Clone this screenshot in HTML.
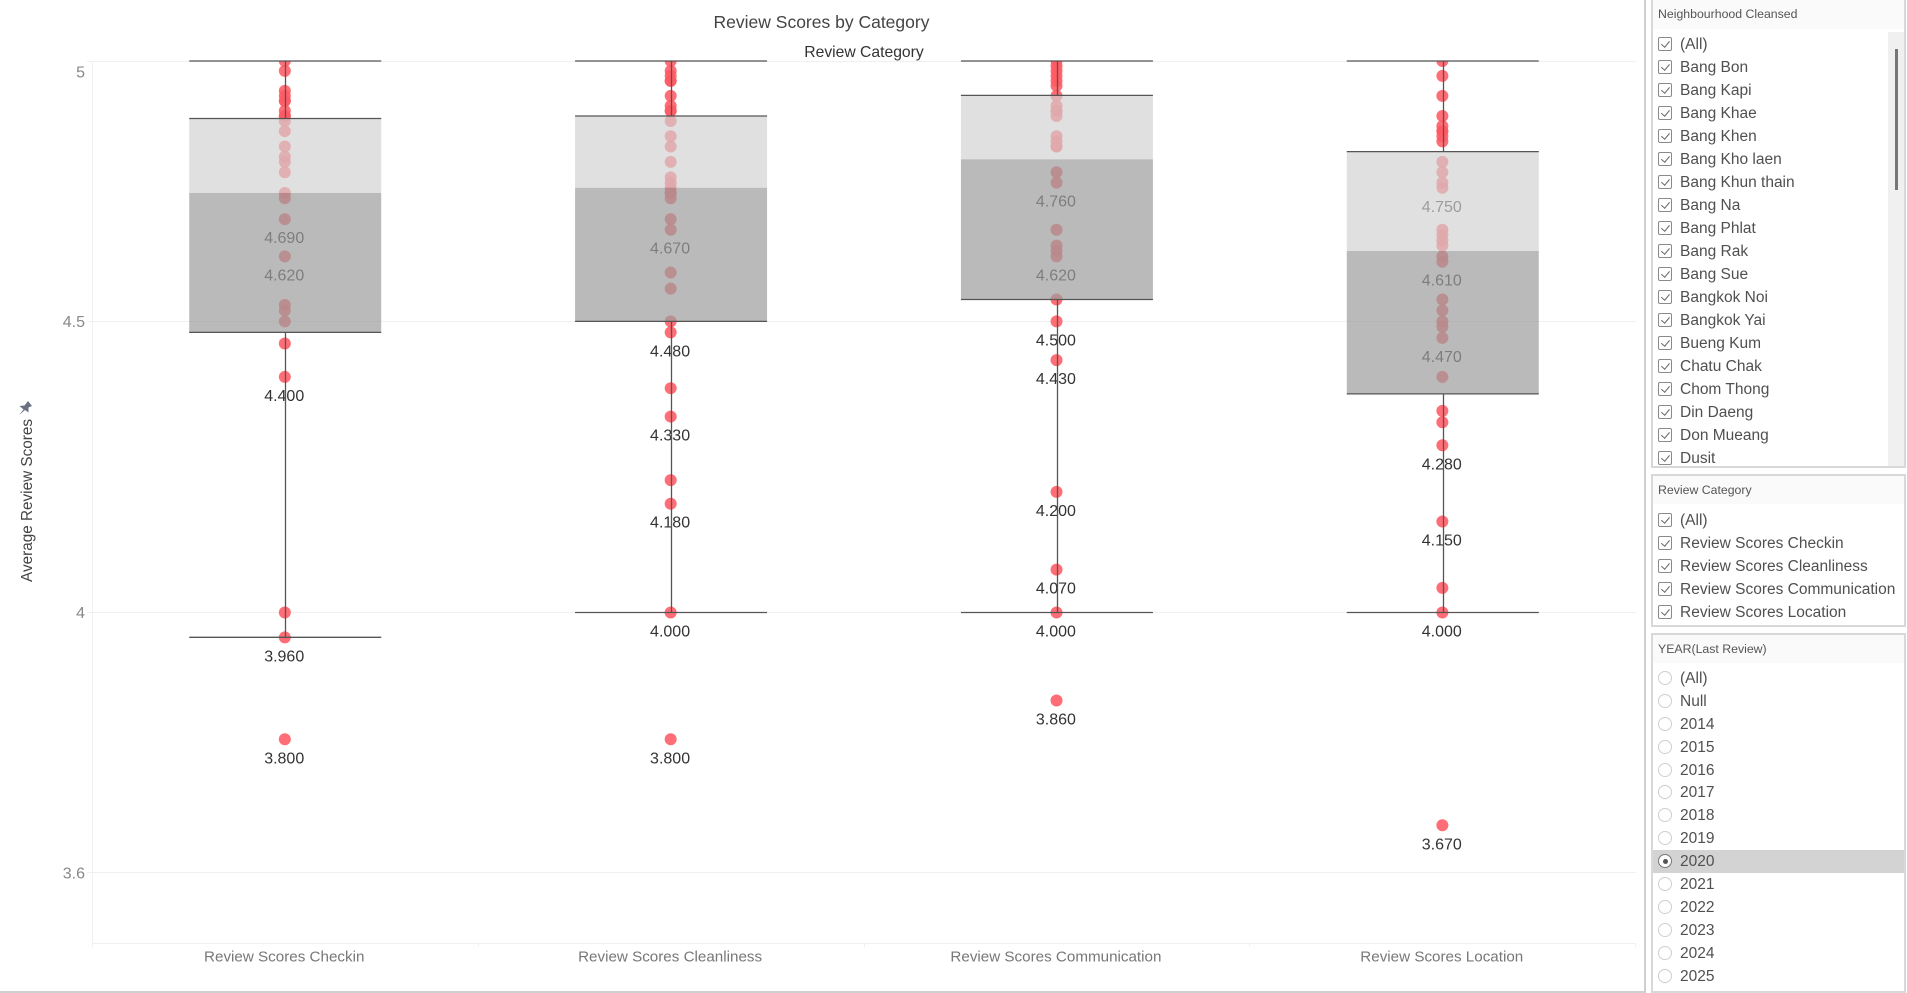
<!DOCTYPE html>
<html lang="en">
<head>
<meta charset="utf-8">
<title>Review Scores by Category</title>
<style>
html,body{margin:0;padding:0;width:1907px;height:993px;overflow:hidden;background:#fff;font-family:"Liberation Sans",sans-serif;}
#chart{position:absolute;left:0;top:0;width:1644px;height:993px;}
#chart text{font-family:"Liberation Sans",sans-serif;}
.rule-v{position:absolute;left:1644px;top:0;width:2px;height:993px;background:#d0d0d0;}
.rule-h{position:absolute;left:0;top:991px;width:1646px;height:2px;background:#d0d0d0;}
.panel{position:absolute;left:1651px;width:255px;box-sizing:border-box;border:2px solid #d8d8d8;background:#fff;overflow:hidden;}
.head{position:absolute;left:0;right:0;top:0;height:28px;background:#fafafa;font-size:12.3px;line-height:28px;color:#555;padding-left:5px;}
.list{position:absolute;left:0;right:0;}
.row{position:relative;height:23px;font-size:15.5px;line-height:23px;color:#505050;white-space:nowrap;}
.year .row{height:22.95px;line-height:22.95px;}
.row .t{position:absolute;left:27px;top:1px;}
.cb{position:absolute;left:5px;top:5px;width:12px;height:12px;border:1px solid #8a8a8a;border-radius:2px;background:#fff;}
.cb::after{content:"";position:absolute;left:3.5px;top:1px;width:3.5px;height:7px;border:solid #666;border-width:0 1.5px 1.5px 0;transform:rotate(40deg);}
.rd{position:absolute;left:5px;top:4px;width:12px;height:12px;border:1px solid #cfcfcf;border-radius:50%;background:#fff;}
.row.sel{background:#d3d3d3;}
.row.sel .rd{border-color:#777;}
.row.sel .rd::after{content:"";position:absolute;left:3.5px;top:3.5px;width:5px;height:5px;border-radius:50%;background:#555;}
.track{position:absolute;right:0;top:32px;bottom:0;width:16px;background:#f0f0f0;}
.thumb{position:absolute;left:7px;top:17px;width:2.5px;height:141px;background:#777;}
</style>
</head>
<body>
<svg id="chart" width="1644" height="993" viewBox="0 0 1644 993"></svg>
<div class="rule-v"></div>
<div class="rule-h"></div>

<div class="panel" style="top:-2px;height:470px">
  <div class="head" style="height:29px;line-height:29px">Neighbourhood Cleansed</div>
  <div class="list" style="top:32px;right:16px">
    <div class="row"><span class="cb"></span><span class="t">(All)</span></div>
    <div class="row"><span class="cb"></span><span class="t">Bang Bon</span></div>
    <div class="row"><span class="cb"></span><span class="t">Bang Kapi</span></div>
    <div class="row"><span class="cb"></span><span class="t">Bang Khae</span></div>
    <div class="row"><span class="cb"></span><span class="t">Bang Khen</span></div>
    <div class="row"><span class="cb"></span><span class="t">Bang Kho laen</span></div>
    <div class="row"><span class="cb"></span><span class="t">Bang Khun thain</span></div>
    <div class="row"><span class="cb"></span><span class="t">Bang Na</span></div>
    <div class="row"><span class="cb"></span><span class="t">Bang Phlat</span></div>
    <div class="row"><span class="cb"></span><span class="t">Bang Rak</span></div>
    <div class="row"><span class="cb"></span><span class="t">Bang Sue</span></div>
    <div class="row"><span class="cb"></span><span class="t">Bangkok Noi</span></div>
    <div class="row"><span class="cb"></span><span class="t">Bangkok Yai</span></div>
    <div class="row"><span class="cb"></span><span class="t">Bueng Kum</span></div>
    <div class="row"><span class="cb"></span><span class="t">Chatu Chak</span></div>
    <div class="row"><span class="cb"></span><span class="t">Chom Thong</span></div>
    <div class="row"><span class="cb"></span><span class="t">Din Daeng</span></div>
    <div class="row"><span class="cb"></span><span class="t">Don Mueang</span></div>
    <div class="row"><span class="cb"></span><span class="t">Dusit</span></div>
  </div>
  <div class="track"><div class="thumb"></div></div>
</div>

<div class="panel" style="top:474px;height:153px">
  <div class="head">Review Category</div>
  <div class="list" style="top:31.5px">
    <div class="row"><span class="cb"></span><span class="t">(All)</span></div>
    <div class="row"><span class="cb"></span><span class="t">Review Scores Checkin</span></div>
    <div class="row"><span class="cb"></span><span class="t">Review Scores Cleanliness</span></div>
    <div class="row"><span class="cb"></span><span class="t">Review Scores Communication</span></div>
    <div class="row"><span class="cb"></span><span class="t">Review Scores Location</span></div>
  </div>
</div>

<div class="panel year" style="top:633px;height:360px">
  <div class="head">YEAR(Last Review)</div>
  <div class="list" style="top:31.8px">
    <div class="row"><span class="rd"></span><span class="t">(All)</span></div>
    <div class="row"><span class="rd"></span><span class="t">Null</span></div>
    <div class="row"><span class="rd"></span><span class="t">2014</span></div>
    <div class="row"><span class="rd"></span><span class="t">2015</span></div>
    <div class="row"><span class="rd"></span><span class="t">2016</span></div>
    <div class="row"><span class="rd"></span><span class="t">2017</span></div>
    <div class="row"><span class="rd"></span><span class="t">2018</span></div>
    <div class="row"><span class="rd"></span><span class="t">2019</span></div>
    <div class="row sel"><span class="rd"></span><span class="t">2020</span></div>
    <div class="row"><span class="rd"></span><span class="t">2021</span></div>
    <div class="row"><span class="rd"></span><span class="t">2022</span></div>
    <div class="row"><span class="rd"></span><span class="t">2023</span></div>
    <div class="row"><span class="rd"></span><span class="t">2024</span></div>
    <div class="row"><span class="rd"></span><span class="t">2025</span></div>
  </div>
</div>

<script>
const categories = ['Review Scores Checkin', 'Review Scores Cleanliness', 'Review Scores Communication', 'Review Scores Location'];
const yTicks = [5, 4.5, 4, 3.6];
const yDomain = [3.5, 5];

const scoresCheckin = [5, 4.98, 4.94, 4.93, 4.92, 4.92, 4.9, 4.89, 4.89, 4.88, 4.86, 4.83, 4.81, 4.8, 4.78, 4.74, 4.73, 4.69, 4.62, 4.53, 4.52, 4.5, 4.46, 4.4, 4, 3.96, 3.8];
const scoresCleanliness = [5, 4.98, 4.97, 4.96, 4.96, 4.93, 4.91, 4.9, 4.9, 4.88, 4.85, 4.83, 4.8, 4.77, 4.76, 4.75, 4.74, 4.74, 4.73, 4.69, 4.67, 4.59, 4.56, 4.5, 4.48, 4.38, 4.33, 4.22, 4.18, 4, 3.8];
const scoresCommunication = [5, 4.99, 4.98, 4.97, 4.96, 4.95, 4.93, 4.91, 4.9, 4.9, 4.89, 4.85, 4.84, 4.83, 4.83, 4.78, 4.76, 4.67, 4.64, 4.63, 4.62, 4.54, 4.5, 4.43, 4.2, 4.07, 4, 3.86];
const scoresLocation = [5, 4.97, 4.93, 4.89, 4.87, 4.86, 4.86, 4.85, 4.84, 4.8, 4.78, 4.76, 4.75, 4.67, 4.66, 4.65, 4.64, 4.62, 4.61, 4.54, 4.52, 4.5, 4.49, 4.47, 4.4, 4.34, 4.32, 4.28, 4.15, 4.04, 4, 3.67];

const labelsCheckin = [4.69, 4.62, 4.4, 3.96, 3.8];
const labelsCleanliness = [4.67, 4.48, 4.33, 4.18, 4, 3.8];
const labelsCommunication = [4.76, 4.62, 4.5, 4.43, 4.2, 4.07, 4, 3.86];
const labelsLocation = [4.75, 4.61, 4.47, 4.28, 4.15, 4, 3.67];

const upperWhiskers = [5, 5, 5, 5];
const upperHinges = [4.885, 4.89, 4.931, 4.82];
const medians = [4.74, 4.75, 4.805, 4.63];
const lowerHinges = [4.48, 4.5, 4.54, 4.37];
const lowerWhiskers = [3.96, 4, 4, 4];

const allScores = [scoresCheckin, scoresCleanliness, scoresCommunication, scoresLocation];
const allLabels = [labelsCheckin, labelsCleanliness, labelsCommunication, labelsLocation];

const plot = { left: 92.3, right: 1635.7, top: 61, bottom: 942.5 };
const NS = 'http://www.w3.org/2000/svg';
const svg = document.getElementById('chart');

function yScale(v) {
  const t = (Math.log(yDomain[1]) - Math.log(v)) / (Math.log(yDomain[1]) - Math.log(yDomain[0]));
  return plot.top + t * (plot.bottom - plot.top);
}
function xBand(i) {
  return plot.left + (plot.right - plot.left) / categories.length * (i + 0.5);
}
function crisp(p) { return Math.round(p - 0.5) + 0.5; }
function add(tag, attrs, parent, text) {
  const el = document.createElementNS(NS, tag);
  for (const k in attrs) el.setAttribute(k, attrs[k]);
  if (text !== undefined) el.textContent = text;
  (parent || svg).appendChild(el);
  return el;
}
const GRID = '#f0f0f0';
const LINE = '#555555';
const HALF_BOX = 96;

const defs = add('defs', {});
const clip = add('clipPath', { id: 'plot-clip' }, defs);
add('rect', { x: plot.left, y: plot.top, width: plot.right - plot.left, height: plot.bottom - plot.top }, clip);

/* Title + column header */
const title = add('text', { x: 821.5, y: 28, 'text-anchor': 'middle', 'font-size': 17.5, fill: '#444' }, svg, 'Review Scores by Category');


const colHeader = add('text', { x: 864, y: 57, 'text-anchor': 'middle', 'font-size': 15.7, fill: '#333' }, svg, 'Review Category');



/* Gridlines + y ticks */
yTicks.forEach(function (t) {
  const y = crisp(yScale(t));
  const grid = add('line', { x1: 87, x2: plot.right, y1: y, y2: y, stroke: GRID, 'stroke-width': 1 });
  
  
  const tick = add('text', { x: 85, y: Math.max(yScale(t), plot.top + 11) + 5.5, 'text-anchor': 'end', 'font-size': 16, fill: '#888' }, svg, String(t));
  
  
});
const yAxis = add('line', { x1: 92.5, x2: 92.5, y1: plot.top, y2: 947, stroke: GRID });


const xAxis = add('line', { x1: 92.5, x2: plot.right, y1: 943.5, y2: 943.5, stroke: GRID });



/* Y axis title with pin */
const yTitle = add('text', { transform: 'translate(32,500.5) rotate(-90)', 'text-anchor': 'middle', 'font-size': 15.3, fill: '#444' }, svg, 'Average Review Scores');


const pin = add('path', { d: 'M19 415 L23.5 409.5 L19.5 406 L24.5 405.5 L28 401 L32 406 L28.5 407.5 L28.5 412.5 L25 410 Z', fill: '#6b7280' });



categories.forEach(function (name, i) {
  const cx = xBand(i);
  const group = add('g', {});
  
  

  /* divider tick */
  const sep = add('line', { x1: crisp(plot.left + (plot.right - plot.left) / categories.length * (i + 1)), x2: crisp(plot.left + (plot.right - plot.left) / categories.length * (i + 1)), y1: 943, y2: 947, stroke: GRID }, group);
  
  

  /* points, beneath the box */
  const dots = add('g', { 'clip-path': 'url(#plot-clip)' }, group);
  allScores[i].forEach(function (v) {
    const dot = add('circle', { cx: cx - 0.4, cy: yScale(v), r: 6, fill: '#ff5a63', 'fill-opacity': 0.88 }, dots);
    
    
  });

  /* printed values */
  allLabels[i].forEach(function (v) {
    const lab = add('text', { x: cx - 1, y: yScale(v) + 24, 'text-anchor': 'middle', 'font-size': 16, fill: '#333' }, group, v.toFixed(3));
    
    
  });

  /* whiskers */
  const wx = crisp(cx + 0.5);
  const wTop = add('line', { x1: wx, x2: wx, y1: yScale(upperWhiskers[i]), y2: yScale(upperHinges[i]), stroke: LINE, 'stroke-width': 1.3 }, group);
  
  
  const wBot = add('line', { x1: wx, x2: wx, y1: yScale(lowerHinges[i]), y2: yScale(lowerWhiskers[i]), stroke: LINE, 'stroke-width': 1.3 }, group);
  
  

  /* box */
  const upper = add('rect', { x: cx - HALF_BOX, width: HALF_BOX * 2, y: yScale(upperHinges[i]), height: yScale(medians[i]) - yScale(upperHinges[i]), fill: 'rgb(209,209,209)', 'fill-opacity': 0.67 }, group);
  
  
  const lower = add('rect', { x: cx - HALF_BOX, width: HALF_BOX * 2, y: yScale(medians[i]), height: yScale(lowerHinges[i]) - yScale(medians[i]), fill: 'rgb(156,156,156)', 'fill-opacity': 0.7 }, group);
  
  

  /* caps and hinges */
  [[upperWhiskers[i], 'upper-whisker-cap'], [upperHinges[i], 'upper-hinge'], [lowerHinges[i], 'lower-hinge'], [lowerWhiskers[i], 'lower-whisker-cap']].forEach(function (c) {
    const y = yScale(c[0]);
    const cap = add('line', { x1: cx - HALF_BOX, x2: cx + HALF_BOX, y1: y, y2: y, stroke: LINE, 'stroke-width': 1.3 }, group);
    
    
  });

  /* category label */
  const catLabel = add('text', { x: cx - 1, y: 961.5, 'text-anchor': 'middle', 'font-size': 15.2, fill: '#777' }, group, name);
  
  
});
</script>
</body>
</html>
